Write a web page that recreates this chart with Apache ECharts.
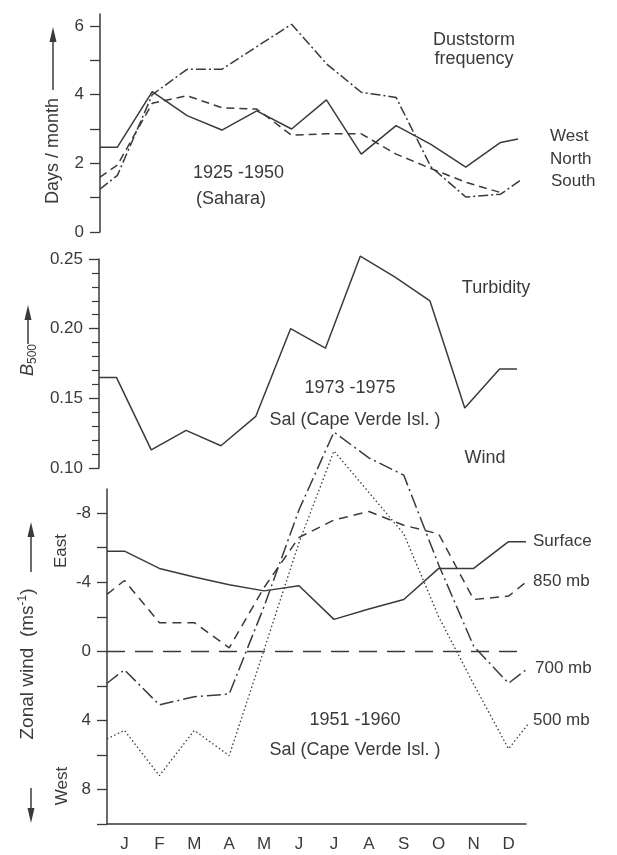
<!DOCTYPE html>
<html>
<head>
<meta charset="utf-8">
<script src="https://cdn.jsdelivr.net/npm/echarts@6/dist/echarts.min.js"></script>
<style>
  html, body { margin: 0; padding: 0; background: #fff; }
  #chart { width: 617px; height: 855px; }
</style>
</head>
<body>
<div id="chart"></div>
<script>
// month labels (bottom axis)
const months = ['J', 'F', 'M', 'A', 'M', 'J', 'J', 'A', 'S', 'O', 'N', 'D']

// duststorm frequency 1925-1950 (Sahara), days / month, one value per month
// *Edge = [value at left edge, value at right edge], *Tail = month position of the last point
const westDays = [2.47, 4.09, 3.39, 2.97, 3.53, 3.0, 3.85, 2.27, 3.1, 2.55, 1.89, 2.61]
const westEdge = [2.47, 2.71]
const northDays = [1.95, 3.75, 3.97, 3.62, 3.58, 2.82, 2.86, 2.86, 2.27, 1.85, 1.45, 1.15]
const northEdge = [1.6, null]
const southDays = [1.65, 4.0, 4.74, 4.74, 5.4, 6.05, 4.9, 4.07, 3.92, 1.9, 1.02, 1.1]
const southEdge = [1.25, 1.74]
const southTail = 12.4
const dustTicks = [0, 1, 2, 3, 4, 5, 6]
const dustLabels = [0, 2, 4, 6]

// turbidity B500, 1973-1975, Sal
const turbidity = [0.165, 0.113, 0.127, 0.116, 0.137, 0.2, 0.186, 0.252, 0.237, 0.22, 0.143, 0.171]
const turbidityEdge = [0.165, 0.171]

// zonal wind 1951-1960, Sal (negative = east)
const surfaceWind = [-5.8, -4.8, -4.3, -3.85, -3.5, -3.8, -1.85, -2.45, -3.0, -4.8, -4.8, -6.35]
const surfaceEdge = [-5.8, -6.35]
const wind850 = [-4.1, -1.66, -1.66, -0.2, -3.7, -6.6, -7.6, -8.1, -7.3, -6.8, -3.0, -3.2]
const wind850Edge = [-3.3, -4.0]
const wind700 = [1.07, 3.1, 2.63, 2.47, -2.6, -8.2, -12.7, -11.2, -10.2, -5.0, -0.3, 1.85]
const wind700Edge = [1.85, 1.07]
const wind500 = [4.58, 7.2, 4.58, 6.04, -0.1, -6.3, -11.6, -9.2, -6.8, -2.0, 1.9, 5.65]
const wind500Edge = [5.07, 3.6]
const wind500Tail = 12.3
const windTicks = [-8, -6, -4, -2, 0, 2, 4, 6, 8, 10]
const windLabels = [-8, -4, 0, 4, 8]

const ink = '#3a3a3a'
const font = '"Liberation Sans", "DejaVu Sans", sans-serif'

// month i is drawn at its centre (i + 0.5); edges at 0 and 12
const toPoints = (vals, edge, tail) => {
  const pts = []
  if (edge[0] != null) pts.push([0, edge[0]])
  vals.forEach((v, i) => pts.push([i + 0.5, v]))
  if (edge[1] != null) pts.push([tail || 12, edge[1]])
  return pts
}

const line = (name, grid, data, type, width) => ({
  name,
  type: 'line',
  xAxisIndex: grid,
  yAxisIndex: grid,
  data,
  symbol: 'none',
  clip: false,
  lineStyle: { color: ink, width: width || 1.5, type: type || 'solid' }
})

const tickStyle = { show: true, length: 10, lineStyle: { color: ink, width: 1.3 } }
const labelStyle = { color: ink, fontSize: 17, fontFamily: font, margin: 16 }
const yBase = {
  axisLine: { show: true, lineStyle: { color: ink, width: 1.5 } },
  splitLine: { show: false }
}

const txt = (text, x, y, o = {}) => ({
  type: 'text',
  x, y,
  rotation: o.rot ? Math.PI / 2 : 0,
  style: {
    text,
    fill: ink,
    font: (o.size || 18) + 'px ' + font,
    align: o.align || 'center',
    verticalAlign: 'middle',
    rich: o.rich
  }
})

const arrow = (x, from, tip) => {
  const dir = tip < from ? 1 : -1
  return [
    { type: 'line', shape: { x1: x, y1: from, x2: x, y2: tip + dir * 8 }, style: { stroke: ink, lineWidth: 1.5 } },
    { type: 'polygon', shape: { points: [[x, tip], [x - 3.5, tip + dir * 15], [x + 3.5, tip + dir * 15]] }, style: { fill: ink } }
  ]
}

const myChart = echarts.init(document.getElementById('chart'))

const option = {
  animation: false,
  backgroundColor: '#fff',
  grid: [
    { left: 100, width: 418, top: 14, height: 218 },
    { left: 99, width: 418, top: 259, height: 209 },
    { left: 107, width: 419, top: 489, height: 335 }
  ],
  xAxis: [
    { type: 'value', gridIndex: 0, min: 0, max: 12, show: false },
    { type: 'value', gridIndex: 1, min: 0, max: 12, show: false },
    { type: 'value', gridIndex: 2, min: 0, max: 12, show: false },
    {
      type: 'category', gridIndex: 2, data: months, boundaryGap: true, position: 'bottom',
      axisLine: { lineStyle: { color: ink, width: 1.5 } },
      axisTick: { inside: true, length: 8, lineStyle: { color: ink, width: 1.3 } },
      axisLabel: { color: ink, fontSize: 17, fontFamily: font, margin: 12 }
    }
  ],
  yAxis: [
    Object.assign({}, yBase, {
      type: 'value', gridIndex: 0, min: 0, max: 6.35,
      axisTick: Object.assign({}, tickStyle, { customValues: dustTicks }),
      axisLabel: Object.assign({}, labelStyle, { customValues: dustLabels })
    }),
    Object.assign({}, yBase, {
      type: 'value', gridIndex: 1, min: 0.1, max: 0.25, interval: 0.05,
      axisTick: tickStyle,
      minorTick: { show: true, splitNumber: 5, length: 7, lineStyle: { color: ink, width: 1.2 } },
      minorSplitLine: { show: false },
      axisLabel: Object.assign({}, labelStyle, { formatter: v => v.toFixed(2) })
    }),
    Object.assign({}, yBase, {
      type: 'value', gridIndex: 2, min: -9.4, max: 10, inverse: true,
      axisTick: Object.assign({}, tickStyle, { customValues: windTicks }),
      axisLabel: Object.assign({}, labelStyle, { customValues: windLabels })
    })
  ],
  series: [
    line('West', 0, toPoints(westDays, westEdge)),
    line('North', 0, toPoints(northDays, northEdge), [8, 5]),
    line('South', 0, toPoints(southDays, southEdge, southTail), [10, 3, 2, 3]),
    line('Turbidity', 1, toPoints(turbidity, turbidityEdge)),
    Object.assign(line('Surface', 2, toPoints(surfaceWind, surfaceEdge)), {
      markLine: {
        silent: true,
        symbol: ['none', 'none'],
        label: { show: false },
        lineStyle: { color: ink, width: 1.4, type: [18, 10] },
        data: [{ yAxis: 0 }]
      }
    }),
    line('850 mb', 2, toPoints(wind850, wind850Edge), [9, 6]),
    line('700 mb', 2, toPoints(wind700, wind700Edge), [14, 4, 2, 4]),
    line('500 mb', 2, toPoints(wind500, wind500Edge, wind500Tail), [1.5, 2.5], 1.3)
  ],
  graphic: [
    // axis titles
    txt('Days / month', 53, 151, { rot: true }),
    ...arrow(53, 90, 27),
    txt('{i|B}{s|500}', 28, 360, {
      rot: true,
      rich: {
        i: { fontStyle: 'italic', fontSize: 18, fontFamily: font, fill: ink, lineHeight: 22 },
        s: { fontSize: 12, fontFamily: font, fill: ink, lineHeight: 22, verticalAlign: 'bottom' }
      }
    }),
    ...arrow(28, 344, 305),
    txt('Zonal wind  (ms{p|-1})', 28, 664, {
      rot: true, size: 19,
      rich: { p: { fontSize: 12, fontFamily: font, fill: ink, lineHeight: 22, verticalAlign: 'top' } }
    }),
    ...arrow(31, 572, 522),
    ...arrow(31, 788, 823),
    txt('East', 61, 551, { rot: true, size: 17 }),
    txt('West', 62, 786, { rot: true, size: 17 }),
    // panel annotations
    txt('Duststorm', 474, 40),
    txt('frequency', 474, 59),
    txt('West', 550, 136, { align: 'left', size: 17 }),
    txt('North', 550, 159, { align: 'left', size: 17 }),
    txt('South', 551, 181, { align: 'left', size: 17 }),
    txt('1925 -1950', 193, 173, { align: 'left' }),
    txt('(Sahara)', 196, 199, { align: 'left' }),
    txt('Turbidity', 496, 288),
    txt('1973 -1975', 350, 388),
    txt('Sal (Cape Verde Isl. )', 355, 420),
    txt('Wind', 485, 458),
    txt('Surface', 533, 541, { align: 'left', size: 17 }),
    txt('850 mb', 533, 581, { align: 'left', size: 17 }),
    txt('700 mb', 535, 668, { align: 'left', size: 17 }),
    txt('500 mb', 533, 720, { align: 'left', size: 17 }),
    txt('1951 -1960', 355, 720),
    txt('Sal (Cape Verde Isl. )', 355, 750)
  ]
}

myChart.setOption(option)
window.addEventListener('resize', function () {
  myChart.resize()
})
</script>
</body>
</html>
